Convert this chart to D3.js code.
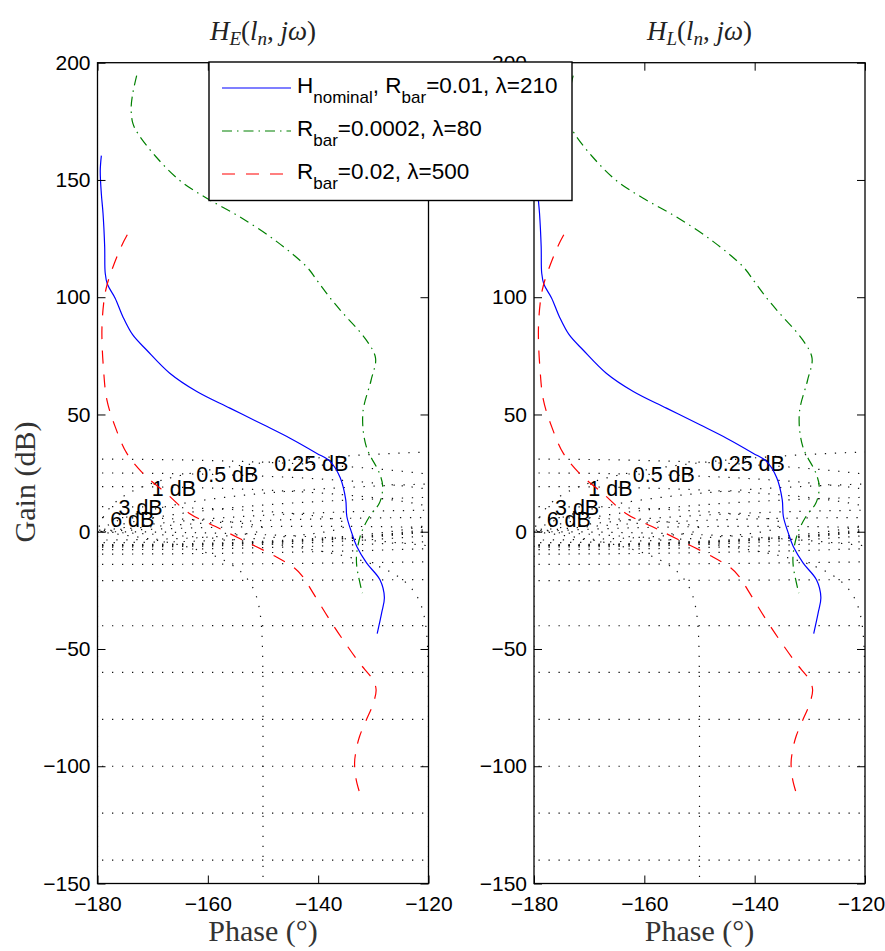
<!DOCTYPE html>
<html><head><meta charset="utf-8">
<script src="https://cdn.jsdelivr.net/npm/d3@7/dist/d3.min.js"></script>
<style>html,body{margin:0;padding:0;background:#fff;} svg{display:block}</style>
</head><body><script>
// ---------------- data ----------------
const phaseTicks = [-180, -160, -140, -120];
const gainTicks = [200, 150, 100, 50, 0, -50, -100, -150];
const panelSubscripts = ["E", "L"];

// H_nominal, R_bar=0.01, lambda=210  (phase deg, gain dB)
const bluePhase = [-179.3,-179.5,-179.3,-179.0,-178.7,-178.6,-178.2,-176.8,-175.4,-173.6,-171.1,-166.9,-162.0,-156.0,-149.9,-145.1,-140.3,-137.8,-136.0,-135.0,-134.8,-133.9,-133.0,-131.2,-128.8,-128.0,-128.5,-129.3];
const blueGain  = [160.4,154,144,135.8,121.6,110.2,105.5,99.6,91.7,83.9,77.5,67.6,59.8,52.7,45.6,39.9,33.5,29.9,23,13.6,6.5,-0.6,-6.3,-13.4,-20.5,-28,-34.7,-43.4];

// R_bar=0.0002, lambda=80
const greenPhase = [-172.9,-173.6,-173.9,-173.6,-172.7,-169.4,-165.2,-160.2,-154.3,-147.5,-142.1,-140.0,-137.8,-135.5,-131.3,-129.6,-130.4,-131.9,-131.3,-128.9,-128.3,-128.9,-130.7,-132.2,-133.0,-133.0,-132.0];
const greenGain  = [194.5,187,180.6,174.2,169.9,159.9,150,142.2,134.4,123.7,113.0,106.5,99.6,93.2,81.8,74.0,64.7,50.6,36.5,25,19.3,12.2,6.5,-0.6,-9.1,-14.8,-26.2];

// R_bar=0.02, lambda=500
const redPhase = [-174.6,-175.7,-177.4,-178.3,-178.8,-179.2,-178.9,-178.3,-176.8,-174.7,-171.8,-167.6,-163.4,-158.6,-153.7,-147.7,-144.3,-142.8,-140.9,-137.9,-135.5,-132.5,-130.1,-129.5,-130.1,-131.0,-132.5,-133.1,-133.4,-133.1,-132.4];
const redGain  = [126.6,121.6,111.6,105,99,86.1,69.0,56.2,44.8,33.5,25.0,16.5,7.9,2.2,-3.5,-10.6,-15.5,-19.1,-26.2,-37.6,-46.1,-56.0,-63.1,-67.4,-73.8,-78.8,-87.3,-93.0,-98.6,-105.8,-111.9];

// Nichols grid contour levels (closed-loop gain in dB, closed-loop phase in deg)
const gridGainDb = [6, 3, 1, 0.5, 0.25, 0, -1, -3, -6, -12, -20, -40, -60, -80, -100, -120, -140, -160];
const gridPhaseDeg = [-1, -5, -10, -20, -30, -50, -90, -120, -150, -180];
const gridLabelText  = ["6 dB", "3 dB", "1 dB", "0.5 dB", "0.25 dB"];
const gridLabelPhase = [-177.7, -176.2, -170.15, -162.1, -147.95];
const gridLabelGain  = [5.4, 10.5, 18.6, 24.55, 29.3];

const legendLabels = [
  [["H",0],["nominal",1],[", R",0],["bar",1],["=0.01, λ=210",0]],
  [["R",0],["bar",1],["=0.0002, λ=80",0]],
  [["R",0],["bar",1],["=0.02, λ=500",0]]
];

// ---------------- grid geometry ----------------
const rad = Math.PI / 180;
function gainContour(db) {
  const m = Math.pow(10, db / 20), m2 = m * m;
  const th0 = -181, th1 = -119, step = 0.05;
  const paths = [];
  if (db === 0) {
    const pts = [];
    for (let t = th0; t <= th1; t += step) {
      const c = Math.cos(t * rad);
      if (c < 0) pts.push([t, 20 * Math.log10(-1 / (2 * c))]);
    }
    paths.push(pts);
  } else if (m < 1) {
    const A = 1 - m2, pts = [];
    for (let t = th0; t <= th1; t += step) {
      const c = Math.cos(t * rad), B = -2 * m2 * c, C = -m2;
      const r = (-B + Math.sqrt(B * B - 4 * A * C)) / (2 * A);
      pts.push([t, 20 * Math.log10(r)]);
    }
    paths.push(pts);
  } else {
    const A = 1 - m2;
    const dmax = Math.asin(1 / m) / rad;
    const tmin = Math.max(th0, -180 - dmax), tmax = Math.min(th1, -180 + dmax);
    const ts = [];
    for (let t = tmin; t < tmax; t += step) ts.push(t);
    ts.push(tmax);
    const up = [], lo = [];
    ts.forEach(t => {
      const c = Math.cos(t * rad), B = -2 * m2 * c, C = -m2;
      let disc = B * B - 4 * A * C; if (disc < 0) disc = 0;
      const r1 = (-B - Math.sqrt(disc)) / (2 * A), r2 = (-B + Math.sqrt(disc)) / (2 * A);
      up.push([t, 20 * Math.log10(Math.max(r1, r2))]);
      lo.push([t, 20 * Math.log10(Math.min(r1, r2))]);
    });
    if (tmax < th1) paths.push(up.concat(lo.reverse()));
    else { paths.push(up); paths.push(lo); }
  }
  return paths;
}
function phaseContour(deg) {
  const Ms = [];
  for (let i = 0; i <= 3000; i++) Ms.push(Math.pow(10, -8 + 12 * i / 3000));
  for (let i = 0; i <= 3000; i++) Ms.push(0.5 + 1.5 * i / 3000);
  Ms.sort((a, b) => a - b);
  const pts = [];
  Ms.forEach(M => {
    if (deg === -180) { pts.push([-180, 20 * Math.log10(M / (1 + M))]); return; }
    const a = M * Math.cos(deg * rad), b = M * Math.sin(deg * rad);
    const d = (1 - a) * (1 - a) + b * b;
    const re = (a - M * M) / d, im = b / d;
    let ph = Math.atan2(im, re) / rad; if (ph > 0) ph -= 360;
    const gdb = 20 * Math.log10(Math.hypot(re, im));
    if (isFinite(gdb)) pts.push([ph, gdb]);
  });
  return [pts];
}
const gridPaths = [];
gridGainDb.forEach(v => gainContour(v).forEach(p => gridPaths.push(p)));
gridPhaseDeg.forEach(v => phaseContour(v).forEach(p => gridPaths.push(p)));

// ---------------- drawing ----------------
const W = 885, H = 951;
const panelLeft = [97.5, 534], panelW = 331, plotTop = 62.7, plotBottom = 883.5;
const sans = "'Liberation Sans', Arial, Helvetica, sans-serif";
const serif = "'Liberation Serif', 'Times New Roman', serif";

const svg = d3.select("body").append("svg").attr("width", W).attr("height", H)
  .style("font-family", sans);
const y = d3.scaleLinear().domain([-150, 200]).range([plotBottom, plotTop]);

const series = [
  {p: bluePhase, g: blueGain, color: "#0000ff", dash: null},
  {p: greenPhase, g: greenGain, color: "#008000", dash: "10 5 1.5 5"},
  {p: redPhase, g: redGain, color: "#ff0000", dash: "13 11"}
];

panelSubscripts.forEach((sub, i) => {
  const x = d3.scaleLinear().domain([-180, -120]).range([panelLeft[i], panelLeft[i] + panelW]);
  const g = svg.append("g");
  const clipId = "clip" + i;
  svg.append("clipPath").attr("id", clipId).append("rect")
    .attr("x", x(-180)).attr("y", y(200)).attr("width", x(-120) - x(-180)).attr("height", y(-150) - y(200));
  const line = d3.line().x(d => x(d[0])).y(d => y(d[1]));

  // grid
  const grid = g.append("g").attr("clip-path", `url(#${clipId})`)
    .attr("fill", "none").attr("stroke", "#111").attr("stroke-width", 1.2).attr("stroke-dasharray", "1.3 8.7");
  gridPaths.forEach(pts => grid.append("path").attr("d", line(pts)));

  // grid labels
  gridLabelText.forEach((t, k) => {
    g.append("text").attr("x", x(gridLabelPhase[k])).attr("y", y(gridLabelGain[k]))
      .attr("dy", "0.36em").attr("font-size", 21.5).attr("fill", "#000").text(t);
  });

  // series
  const sg = g.append("g").attr("clip-path", `url(#${clipId})`).attr("fill", "none");
  const cline = d3.line().x(d => x(d[0])).y(d => y(d[1])).curve(d3.curveCatmullRom.alpha(0.5));
  series.forEach(s => {
    const pts = s.p.map((v, k) => [v, s.g[k]]);
    const path = sg.append("path").attr("d", cline(pts)).attr("stroke", s.color).attr("stroke-width", 1.2);
    if (s.dash) path.attr("stroke-dasharray", s.dash);
  });

  // axes
  const styleAxis = sel => { sel.select(".domain").remove(); sel.attr("font-size", 21).attr("font-family", sans); sel.selectAll("line").attr("stroke", "#000"); };
  g.append("g").attr("transform", `translate(${x(-180)},0)`)
    .call(d3.axisLeft(y).tickValues(gainTicks).tickSizeInner(-8).tickSizeOuter(0).tickPadding(7)).call(styleAxis);
  g.append("g").attr("transform", `translate(${x(-120)},0)`)
    .call(d3.axisRight(y).tickValues(gainTicks).tickSizeInner(-8).tickSizeOuter(0).tickFormat(() => "")).call(styleAxis);
  g.append("g").attr("transform", `translate(0,${y(200)})`)
    .call(d3.axisTop(x).tickValues(phaseTicks).tickSizeInner(-8).tickSizeOuter(0).tickFormat(() => "")).call(styleAxis);
  const bx = g.append("g").attr("transform", `translate(0,${y(-150)})`)
    .call(d3.axisBottom(x).tickValues(phaseTicks).tickSizeInner(-8).tickSizeOuter(0).tickPadding(12.5)).call(styleAxis);
  if (i === 1) {
    // keep the last label inside the 885px canvas
    bx.selectAll(".tick text").filter(d => d === -120).attr("x", -4);
  }

  g.append("rect").attr("x", x(-180)).attr("y", y(200)).attr("width", x(-120) - x(-180)).attr("height", y(-150) - y(200))
    .attr("fill", "none").attr("stroke", "#000").attr("stroke-width", 1.3);

  // title
  const cx = (x(-180) + x(-120)) / 2;
  const t = g.append("text").attr("x", cx).attr("y", 40).attr("text-anchor", "middle")
    .attr("font-family", serif).attr("font-size", 27).attr("font-style", "italic").attr("fill", "#222");
  t.append("tspan").text("H");
  t.append("tspan").attr("font-size", 19).attr("dy", 5).text(sub);
  t.append("tspan").attr("dy", -5).attr("font-style", "normal").text("(");
  t.append("tspan").text("l");
  t.append("tspan").attr("font-size", 19).attr("dy", 5).text("n");
  t.append("tspan").attr("dy", -5).attr("font-style", "normal").text(", ");
  t.append("tspan").text("jω");
  t.append("tspan").attr("font-style", "normal").text(")");

  // x label
  g.append("text").attr("x", cx).attr("y", 941).attr("text-anchor", "middle")
    .attr("font-family", serif).attr("font-size", 30).attr("fill", "#333").text("Phase (°)");
  if (i === 0) {
    g.append("text").attr("transform", "translate(35,482) rotate(-90)").attr("text-anchor", "middle")
      .attr("font-family", serif).attr("font-size", 30).attr("fill", "#333").text("Gain (dB)");
  }
});

// legend
const lg = svg.append("g");
lg.append("rect").attr("x", 209).attr("y", 62).attr("width", 363).attr("height", 138.5)
  .attr("fill", "#fff").attr("stroke", "#000").attr("stroke-width", 1.4);
const rowY = [88, 131, 174];
series.forEach((s, k) => {
  const l = lg.append("line").attr("x1", 222).attr("x2", 291).attr("y1", rowY[k]).attr("y2", rowY[k])
    .attr("stroke", s.color).attr("stroke-width", 1.2);
  if (s.dash) l.attr("stroke-dasharray", s.dash);
  const tx = lg.append("text").attr("x", 297).attr("y", rowY[k] + 5).attr("font-size", 22.5).attr("fill", "#000");
  let low = false;
  legendLabels[k].forEach(([str, isSub]) => {
    const ts = tx.append("tspan").text(str);
    if (isSub && !low) { ts.attr("font-size", 17).attr("dy", 9.5); low = true; }
    else if (!isSub && low) { ts.attr("dy", -9.5); low = false; }
    else if (isSub) ts.attr("font-size", 17);
  });
});
</script></body></html>
